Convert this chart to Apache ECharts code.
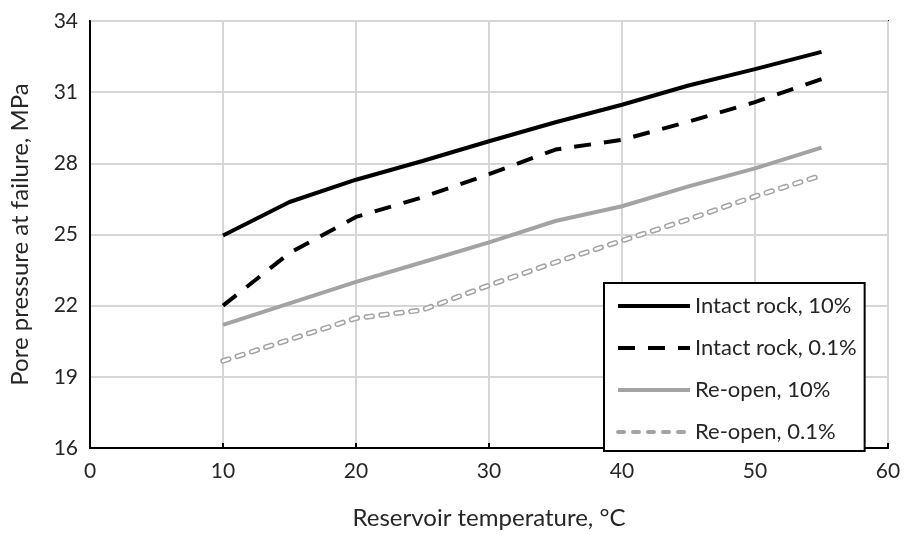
<!DOCTYPE html>
<html>
<head>
<meta charset="utf-8">
<script src="https://cdn.jsdelivr.net/npm/echarts@6/dist/echarts.min.js"></script>
<style>
  html, body { margin: 0; padding: 0; background: #fff; }
  #chart { width: 909px; height: 535px; }
</style>
</head>
<body>
<div id="chart"></div>
<script>
// reservoir temperature, °C
const temps = [10, 15, 20, 25, 30, 35, 40, 45, 50, 55];

// pore pressure at failure, MPa
const intact10 = [24.96, 26.37, 27.31, 28.10, 28.93, 29.73, 30.47, 31.28, 31.97, 32.70];
const intact01 = [22.0, 24.22, 25.74, 26.57, 27.54, 28.58, 28.99, 29.76, 30.58, 31.55];
const reopen10 = [21.19, 22.10, 23.0, 23.83, 24.67, 25.57, 26.19, 27.03, 27.79, 28.66];
const reopen01 = [19.67, 20.57, 21.47, 21.82, 22.86, 23.83, 24.74, 25.64, 26.61, 27.49];

const seriesNames = ["Intact rock, 10%", "Intact rock, 0.1%", "Re-open, 10%", "Re-open, 0.1%"];

const pairs = (ys) => temps.map((t, i) => [t, ys[i]]);

const font = "Lato, 'Open Sans', sans-serif";
const textColor = "#262626";
const gray = "#a3a3a3";

const chart = echarts.init(document.getElementById("chart"));

chart.setOption({
  animation: false,
  textStyle: { fontFamily: font },
  grid: {
    left: 90,
    right: 21,
    top: 21,
    bottom: 82,
    show: true,
    borderColor: "#000",
    borderWidth: 2,
  },
  legend: {
    data: seriesNames,
    orient: "vertical",
    left: 604,
    top: 283,
    backgroundColor: "#fff",
    borderColor: "#000",
    borderWidth: 2,
    padding: [12, 8, 8, 12],
    itemWidth: 72,
    itemHeight: 20,
    itemGap: 20,
    itemStyle: { opacity: 0 },
    lineStyle: { width: 4 },
    textStyle: { fontSize: 22, color: textColor, fontFamily: font },
  },
  xAxis: {
    type: "value",
    min: 0,
    max: 60,
    interval: 10,
    name: "Reservoir temperature, °C",
    nameLocation: "middle",
    nameGap: 58,
    nameTextStyle: { fontSize: 24, color: textColor },
    axisLine: { lineStyle: { color: "#000", width: 2 } },
    axisTick: { show: true, inside: true, length: 5, lineStyle: { color: "#000", width: 2 } },
    axisLabel: { fontSize: 21, color: textColor, margin: 13 },
    splitLine: { lineStyle: { color: "#d6d6d6", width: 2 } },
  },
  yAxis: {
    type: "value",
    min: 16,
    max: 34,
    interval: 3,
    name: "Pore pressure at failure, MPa",
    nameLocation: "middle",
    nameGap: 58,
    nameTextStyle: { fontSize: 24, color: textColor },
    axisLine: { show: true, lineStyle: { color: "#000", width: 2 } },
    axisTick: { show: false },
    axisLabel: { fontSize: 21, color: textColor, margin: 12 },
    splitLine: { lineStyle: { color: "#d6d6d6", width: 2 } },
  },
  series: [
    {
      name: seriesNames[0],
      type: "line",
      data: pairs(intact10),
      symbol: "none",
      lineStyle: { color: "#000", width: 4 },
      itemStyle: { color: "#000" },
    },
    {
      name: seriesNames[1],
      type: "line",
      data: pairs(intact01),
      symbol: "none",
      lineStyle: { color: "#000", width: 4, type: [17, 13] },
      itemStyle: { color: "#000" },
    },
    {
      name: seriesNames[2],
      type: "line",
      data: pairs(reopen10),
      symbol: "none",
      lineStyle: { color: gray, width: 4 },
      itemStyle: { color: gray },
    },
    {
      name: seriesNames[3],
      type: "line",
      data: pairs(reopen01),
      symbol: "none",
      lineStyle: { color: gray, width: 5.5, type: [6, 9], cap: "round" },
      itemStyle: { color: gray },
    },
    {
      // white core of the hollow dashes
      name: "reopen01-core",
      type: "line",
      data: pairs(reopen01),
      symbol: "none",
      silent: true,
      lineStyle: { color: "#fff", width: 2.5, type: [6, 9], cap: "round" },
    },
  ],
});
</script>
</body>
</html>
